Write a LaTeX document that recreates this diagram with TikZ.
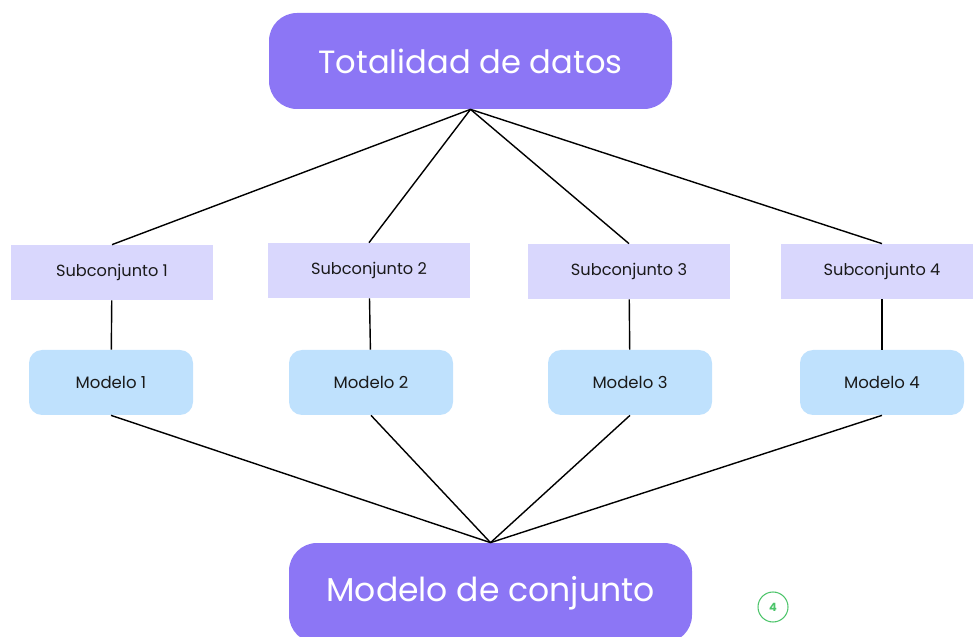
\documentclass[tikz,border=0pt]{standalone}
\usepackage{xcolor}
\usepackage{fontspec}
\setmainfont{Poppins}
\usepackage{tikz}
\definecolor{ensemblepurple}{HTML}{8C76F5}
\definecolor{subsetlilac}{HTML}{D9D7FD}
\definecolor{modelblue}{HTML}{BFE1FD}
\definecolor{badgegreen}{HTML}{4CC46A}
\definecolor{textdark}{HTML}{1A1A1A}

\begin{document}
\begin{tikzpicture}[
  big/.style={rectangle,rounded corners=0.56cm,fill=ensemblepurple,
    minimum width=8.06cm,minimum height=1.92cm,
    align=center,text=white,font=\fontsize{18.3}{21}\selectfont},
  subset/.style={rectangle,fill=subsetlilac,
    minimum width=4.04cm,minimum height=1.1cm,
    align=center,text=textdark,font=\fontsize{9.2}{11}\selectfont},
  model/.style={rectangle,rounded corners=0.26cm,fill=modelblue,
    minimum width=3.28cm,minimum height=1.3cm,
    align=center,text=textdark,font=\fontsize{9.4}{11}\selectfont},
  link/.style={line width=0.8pt,black}]

  \useasboundingbox (0,0) rectangle (19.46,-12.74);

  \node[big] (total) at (9.41,-1.22) {Totalidad de datos};

  \node[subset] (sub1) at (2.24,-5.45) {Subconjunto 1};
  \node[subset] (sub2) at (7.38,-5.41) {Subconjunto 2};
  \node[subset] (sub3) at (12.58,-5.43) {Subconjunto 3};
  \node[subset] (sub4) at (17.64,-5.43) {Subconjunto 4};

  \node[model] (mod1) at (2.22,-7.65) {Modelo 1};
  \node[model] (mod2) at (7.42,-7.65) {Modelo 2};
  \node[model] (mod3) at (12.60,-7.65) {Modelo 3};
  \node[model] (mod4) at (17.64,-7.65) {Modelo 4};

  \node[big,minimum height=2cm,font=\fontsize{18.8}{22}\selectfont] (ensemble) at (9.81,-11.86) {Modelo de conjunto};

  \node[circle,draw=badgegreen,line width=0.6pt,minimum size=0.6cm,inner sep=0pt,
    text=badgegreen,font=\fontsize{6.5}{7}\selectfont\bfseries] (badge) at (15.46,-12.14) {4};

  \draw[link] (total.south) -- (sub1.north);
  \draw[link] (total.south) -- (sub2.north);
  \draw[link] (total.south) -- (sub3.north);
  \draw[link] (total.south) -- (sub4.north);

  \draw[link] (sub1) -- (mod1);
  \draw[link] (sub2) -- (mod2);
  \draw[link] (sub3) -- (mod3);
  \draw[link] (sub4) -- (mod4);

  \draw[link] (mod1.south) -- (ensemble.north);
  \draw[link] (mod2.south) -- (ensemble.north);
  \draw[link] (mod3.south) -- (ensemble.north);
  \draw[link] (mod4.south) -- (ensemble.north);
\end{tikzpicture}
\end{document}
